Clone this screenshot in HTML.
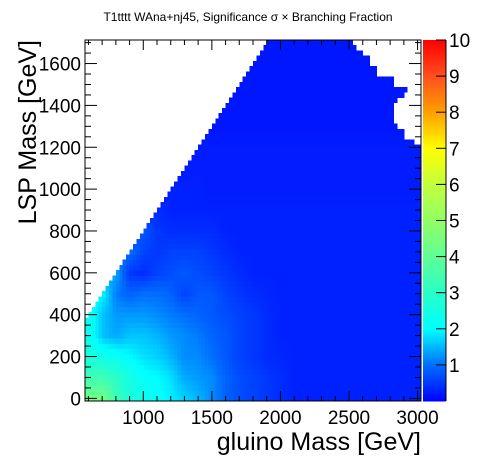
<!DOCTYPE html>
<html><head><meta charset="utf-8"><style>
html,body{margin:0;padding:0;background:#fff;}
svg{display:block;font-family:"Liberation Sans",sans-serif;}
</style></head><body>
<svg id="c" width="496" height="472" viewBox="0 0 496 472">
<text x="248" y="21" font-size="12" text-anchor="middle">T1tttt WAna+nj45, Significance σ × Branching Fraction</text>
<g id="cells" shape-rendering="crispEdges"></g>
<g id="pal" shape-rendering="crispEdges"></g>
<g id="axes"></g>
<text x="421" y="450" font-size="25" text-anchor="end">gluino Mass [GeV]</text>
<text transform="translate(36,40) rotate(-90)" font-size="25" text-anchor="end">LSP Mass [GeV]</text>
</svg>
<script>
const gluinoCenters=[600,700,800,900,1000,1100,1200,1300,1400,1500,1600,1700,1800,1900,2000,2100,2200,2300,2400,2500,2600,2700,2800,2900,3000];
const lspCenters=[0,100,200,300,400,500,600,700,800,900,1000,1100,1200,1300,1400,1500,1600,1700];
const significance=[
[4.3,4.4,3.4,2.7,2.3,2.1,1.9,1.7,1.5,1.2,0.9,0.7,0.6,0.5,0.4,0.3,0.3,0.3,0.3,0.3,0.3,0.3,0.3,0.3,0.3],
[3.4,3.4,3.0,2.5,2.1,2.0,1.8,1.4,1.3,1.2,0.9,0.7,0.6,0.5,0.4,0.3,0.3,0.3,0.3,0.3,0.3,0.3,0.3,0.3,0.3],
[2.6,2.4,2.2,2.0,1.8,1.7,1.5,1.2,1.2,1.0,0.8,0.6,0.5,0.4,0.35,0.3,0.3,0.3,0.3,0.3,0.3,0.3,0.3,0.3,0.3],
[2.3,1.6,1.4,1.6,1.6,1.5,1.3,1.2,1.1,0.9,0.8,0.6,0.5,0.4,0.3,0.3,0.3,0.3,0.3,0.3,0.3,0.3,0.3,0.3,0.3],
[2.3,1.6,1.3,1.3,1.3,1.2,1.1,1.0,0.9,0.8,0.7,0.6,0.5,0.4,0.3,0.3,0.3,0.3,0.3,0.3,0.3,0.3,0.3,0.3,0.3],
[2.0,2.0,1.1,0.9,1.0,1.0,0.9,0.6,0.8,0.8,0.6,0.5,0.4,0.35,0.3,0.3,0.3,0.3,0.3,0.3,0.3,0.3,0.3,0.3,0.3],
[1.4,1.4,1.4,0.5,0.4,0.6,0.7,0.8,0.7,0.6,0.5,0.4,0.3,0.3,0.3,0.3,0.3,0.3,0.3,0.3,0.3,0.3,0.3,0.3,0.3],
[1.0,1.0,1.0,1.0,0.6,0.5,0.6,0.6,0.6,0.5,0.4,0.3,0.3,0.3,0.3,0.3,0.3,0.3,0.3,0.3,0.3,0.3,0.3,0.3,0.3],
[0.8,0.8,0.8,0.8,0.8,0.5,0.4,0.4,0.4,0.4,0.3,0.3,0.3,0.3,0.3,0.3,0.3,0.3,0.3,0.3,0.3,0.3,0.3,0.3,0.3],
[0.4,0.4,0.4,0.4,0.4,0.4,0.3,0.3,0.3,0.3,0.3,0.3,0.3,0.3,0.3,0.3,0.3,0.3,0.3,0.3,0.3,0.3,0.3,0.3,0.3],
[0.3,0.3,0.3,0.3,0.3,0.3,0.3,0.3,0.3,0.25,0.25,0.25,0.25,0.25,0.25,0.25,0.25,0.25,0.25,0.25,0.25,0.25,0.25,0.25,0.25],
[0.25,0.25,0.25,0.25,0.25,0.25,0.25,0.25,0.25,0.25,0.25,0.25,0.25,0.25,0.25,0.25,0.25,0.25,0.25,0.25,0.25,0.25,0.25,0.25,0.25],
[0.25,0.25,0.25,0.25,0.25,0.25,0.25,0.25,0.25,0.25,0.25,0.25,0.25,0.25,0.25,0.25,0.25,0.25,0.25,0.25,0.25,0.25,0.25,0.25,0.25],
[0.2,0.2,0.2,0.2,0.2,0.2,0.2,0.2,0.2,0.2,0.2,0.2,0.2,0.2,0.2,0.2,0.2,0.2,0.2,0.2,0.2,0.2,0.2,0.2,0.2],
[0.2,0.2,0.2,0.2,0.2,0.2,0.2,0.2,0.2,0.2,0.2,0.2,0.2,0.2,0.2,0.2,0.2,0.2,0.2,0.2,0.2,0.2,0.2,0.2,0.2],
[0.2,0.2,0.2,0.2,0.2,0.2,0.2,0.2,0.2,0.2,0.2,0.2,0.2,0.2,0.2,0.2,0.2,0.2,0.2,0.2,0.2,0.2,0.2,0.2,0.2],
[0.2,0.2,0.2,0.2,0.2,0.2,0.2,0.2,0.2,0.2,0.2,0.2,0.2,0.2,0.2,0.2,0.2,0.2,0.2,0.2,0.2,0.2,0.2,0.2,0.2],
[0.2,0.2,0.2,0.2,0.2,0.2,0.2,0.2,0.2,0.2,0.2,0.2,0.2,0.2,0.2,0.2,0.2,0.2,0.2,0.2,0.2,0.2,0.2,0.2,0.2]
];
const boundaryLsp=[1700,1665,1632,1584,1536,1488,1459,1426,1402,1368,1306,1282,1249,1210,1187];
const boundaryMaxGluino=[2514,2550,2608,2660,2711,2828,2915,2900,2857,2828,2828,2857,2908,2974,3025];
const diagonalGap=192;
const xTickLabels=[1000,1500,2000,2500,3000];
const yTickLabels=[0,200,400,600,800,1000,1200,1400,1600];
const zTickLabels=[1,2,3,4,5,6,7,8,9,10];
const paletteStops=[0,1,2,3,4,5,6,7,8,9,10];
const paletteColors=[[0,0,255],[0,110,255],[0,255,255],[40,255,200],[95,255,150],[145,255,100],[195,255,60],[255,255,0],[255,160,0],[255,80,30],[255,0,0]];

const NS="http://www.w3.org/2000/svg";
const X0=85,X1=421,Y0=401,Y1=40,XMIN=575,XMAX=3025,YMIN=-12.5,YMAX=1712.5;
const ZMIN=0,ZMAX=10,PX0=423,PX1=446;
function sx(g){return X0+(g-XMIN)*(X1-X0)/(XMAX-XMIN);}
function sy(l){return Y0-(l-YMIN)*(Y0-Y1)/(YMAX-YMIN);}
function sz(v){return Y0-(v-ZMIN)*(Y0-Y1)/(ZMAX-ZMIN);}
function color(v){
  v=Math.max(paletteStops[0],Math.min(paletteStops[paletteStops.length-1],v));
  for(let i=0;i<paletteStops.length-1;i++){
    if(v<=paletteStops[i+1]){const t=(v-paletteStops[i])/(paletteStops[i+1]-paletteStops[i]);
      const a=paletteColors[i],b=paletteColors[i+1];
      return `rgb(${Math.round(a[0]+(b[0]-a[0])*t)},${Math.round(a[1]+(b[1]-a[1])*t)},${Math.round(a[2]+(b[2]-a[2])*t)})`;}
  }
  return "rgb(255,0,0)";
}
function mk(tag,attrs,parent){const e=document.createElementNS(NS,tag);for(const k in attrs)e.setAttribute(k,attrs[k]);parent.appendChild(e);return e;}
function maxG(lc){for(let i=0;i<boundaryLsp.length;i++){if(lc>=boundaryLsp[i])return boundaryMaxGluino[i];}return XMAX;}
function findIdx(arr,v){
  if(v<=arr[0])return [0,0,0];
  if(v>=arr[arr.length-1])return [arr.length-1,arr.length-1,0];
  for(let i=0;i<arr.length-1;i++){if(v<=arr[i+1])return [i,i+1,(v-arr[i])/(arr[i+1]-arr[i])];}
  return [arr.length-1,arr.length-1,0];
}
function lookup(gc,lc){
  const [c0,c1,tx]=findIdx(gluinoCenters,gc);
  const [r0,r1,ty]=findIdx(lspCenters,lc);
  const a=significance[r0][c0]*(1-tx)+significance[r0][c1]*tx;
  const b=significance[r1][c0]*(1-tx)+significance[r1][c1]*tx;
  return a*(1-ty)+b*ty;
}
const cells=document.getElementById('cells');
for(let g=XMIN;g<XMAX;g+=25){
  for(let l=YMIN;l<YMAX;l+=25){
    const gc=g+12.5,lc=l+12.5;
    if(lc>gc-diagonalGap)continue;
    if(gc>maxG(lc))continue;
    const v=lookup(gc,lc);
    const r=mk('rect',{x:sx(g),y:sy(l+25),width:sx(g+25)-sx(g)+0.4,height:sy(l)-sy(l+25)+0.4,fill:color(v)},cells);
    
    
  }
}
const pal=document.getElementById('pal');
for(let v=0;v<10;v+=0.05){
  const r=mk('rect',{x:PX0,y:sz(v+0.05),width:PX1-PX0,height:sz(v)-sz(v+0.05)+0.4,fill:color(v+0.025)},pal);
  
  
}
const ax=document.getElementById('axes');
const frame=mk('rect',{x:X0,y:Y1,width:X1-X0,height:Y0-Y1,fill:'none',stroke:'#000','stroke-width':1},ax);


mk('line',{x1:PX1,y1:Y1,x2:PX1,y2:Y0,stroke:'#000'},ax);
for(let g=600;g<=3000;g+=100){
  const len=(g%500===0)?10:5,x=sx(g);
  mk('line',{x1:x,y1:Y0,x2:x,y2:Y0-len,stroke:'#000'},ax);
  mk('line',{x1:x,y1:Y1,x2:x,y2:Y1+len,stroke:'#000'},ax);
}
xTickLabels.forEach(t=>{
  const e=mk('text',{x:sx(t),y:424,'font-size':19,'text-anchor':'middle'},ax);e.textContent=t;
  
  
});
for(let l=0;l<=1700;l+=50){
  const len=(l%200===0)?12:6,y=sy(l);
  mk('line',{x1:X0,y1:y,x2:X0+len,y2:y,stroke:'#000'},ax);
  mk('line',{x1:X1,y1:y,x2:X1-len,y2:y,stroke:'#000'},ax);
}
yTickLabels.forEach(t=>{
  const e=mk('text',{x:81,y:sy(t)+7,'font-size':19,'text-anchor':'end'},ax);e.textContent=t;
  
  
});
zTickLabels.forEach(t=>{
  const y=sz(t);
  mk('line',{x1:PX1,y1:y,x2:PX1-10,y2:y,stroke:'#000'},ax);
  const e=mk('text',{x:449,y:y+7,'font-size':19},ax);e.textContent=t;
  
  
});
</script>
</body></html>
